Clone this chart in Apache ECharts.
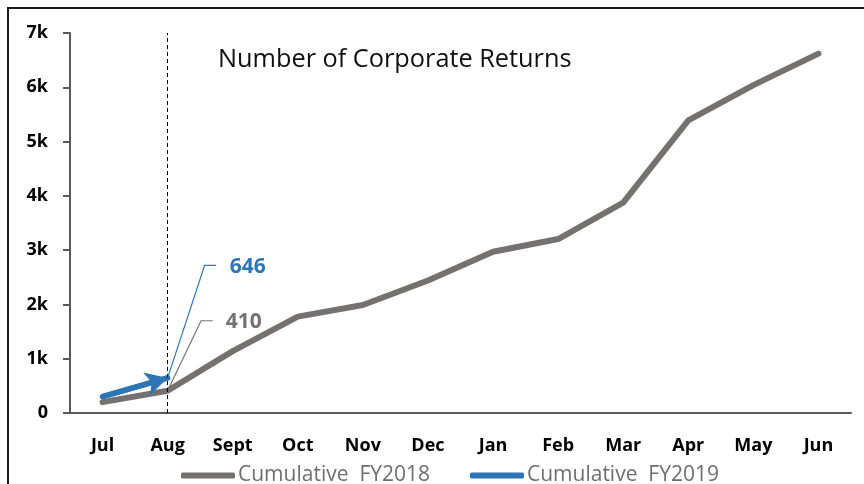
<!DOCTYPE html>
<html>
<head>
<meta charset="utf-8">
<script src="https://cdn.jsdelivr.net/npm/echarts@6/dist/echarts.min.js"></script>
<style>
  html, body { margin: 0; padding: 0; background: #fff; }
  #chart { width: 864px; height: 484px; }
</style>
</head>
<body>
<div id="chart"></div>
<script>
// values
const months = ['Jul', 'Aug', 'Sept', 'Oct', 'Nov', 'Dec', 'Jan', 'Feb', 'Mar', 'Apr', 'May', 'Jun'];
const fy2018 = [200, 410, 1140, 1775, 1990, 2440, 2970, 3205, 3875, 5390, 6040, 6620];
const fy2019 = [300, 646];
const seriesNames = ['Cumulative  FY2018', 'Cumulative  FY2019'];
const chartTitle = 'Number of Corporate Returns';

const GRAY = '#767171';
const BLUE = '#2E75B6';
const AXIS = '#595959';
const FONT = 'Open Sans';

let chart = echarts.init(document.getElementById('chart'));

const xBase = {
  type: 'category',
  data: months,
  axisLine: {lineStyle: {color: AXIS, width: 2}},
  axisTick: {lineStyle: {color: AXIS, width: 2}, length: 7}
};
const yBase = {
  type: 'value',
  min: 0,
  max: 7000,
  interval: 1000,
  splitLine: {show: false},
  axisLine: {show: true, lineStyle: {color: AXIS, width: 2}},
  axisTick: {show: true, lineStyle: {color: AXIS, width: 2}, length: 7}
};

chart.setOption({
  animation: false,
  title: {
    text: chartTitle,
    left: 218,
    top: 46,
    padding: 0,
    textStyle: {fontFamily: FONT, fontSize: 25.3, fontWeight: 'normal', color: '#111', lineHeight: 28}
  },
  legend: {
    left: 176,
    top: 460,
    itemGap: 40,
    itemWidth: 54,
    itemHeight: 6,
    icon: 'roundRect',
    textStyle: {fontFamily: FONT, fontSize: 21, color: '#6e6e6e', padding: [0, 0, 0, -2]},
    data: seriesNames
  },
  grid: {left: 70, right: 13, top: 33, bottom: 71},
  xAxis: [
    Object.assign({}, xBase, {
      axisLabel: {fontFamily: FONT, fontSize: 18, fontWeight: 'bold', color: '#000', margin: 24}
    }),
    Object.assign({}, xBase, {
      axisLine: {show: false},
      axisTick: {inside: true, lineStyle: {color: AXIS, width: 2}, length: 7},
      axisLabel: {show: false}
    })
  ],
  yAxis: [
    Object.assign({}, yBase, {
      axisLabel: {
        fontFamily: FONT, fontSize: 18, fontWeight: 'bold', color: '#000', margin: 22,
        formatter: v => v === 0 ? '0' : (v / 1000) + 'k'
      }
    }),
    Object.assign({}, yBase, {
      position: 'left',
      axisLine: {show: false},
      axisTick: {inside: true, lineStyle: {color: AXIS, width: 2}, length: 7},
      axisLabel: {show: false}
    })
  ],
  series: [
    {
      name: seriesNames[0],
      type: 'line',
      data: fy2018,
      showSymbol: false,
      itemStyle: {color: GRAY},
      lineStyle: {color: GRAY, width: 6, cap: 'round'},
      z: 3,
      markLine: {
        silent: true,
        symbol: 'none',
        label: {show: false},
        lineStyle: {color: '#000', width: 1, type: [4, 3]},
        data: [{xAxis: 1}]
      }
    },
    {
      name: seriesNames[1],
      type: 'line',
      data: fy2019,
      showSymbol: false,
      itemStyle: {color: BLUE},
      lineStyle: {color: BLUE, width: 5.5, cap: 'round'},
      z: 4,
      markLine: {
        silent: true,
        symbol: ['none', 'arrow'],
        symbolSize: [18, 22],
        label: {show: false},
        lineStyle: {color: BLUE, width: 5.5, type: 'solid'},
        data: [[{coord: [0, fy2019[0]]}, {coord: [1, fy2019[1]]}]]
      }
    }
  ]
});

// callout labels for the August values, anchored on the library's scales
let p19 = chart.convertToPixel({xAxisIndex: 0, yAxisIndex: 0}, [1, fy2019[1]]);
let p18 = chart.convertToPixel({xAxisIndex: 0, yAxisIndex: 0}, [1, fy2018[1]]);

chart.setOption({
  graphic: [
    {
      type: 'rect', z: -1, silent: true,
      shape: {x: 8, y: 8, width: 900, height: 600},
      style: {fill: 'none', stroke: '#1a1a1a', lineWidth: 2}
    },
    {
      type: 'polyline', silent: true,
      shape: {points: [p19, [p19[0] + 37, p19[1] - 112.5], [p19[0] + 48.5, p19[1] - 112.5]]},
      style: {stroke: BLUE, lineWidth: 1.2, fill: 'none'}
    },
    {
      type: 'text', silent: true,
      x: p19[0] + 62, y: p19[1] - 111,
      style: {text: String(fy2019[1]), fill: BLUE, font: 'bold 21px "Open Sans"', verticalAlign: 'middle'}
    },
    {
      type: 'polyline', silent: true,
      shape: {points: [p18, [p18[0] + 33.4, p18[1] - 70], [p18[0] + 45, p18[1] - 70]]},
      style: {stroke: GRAY, lineWidth: 1.2, fill: 'none'}
    },
    {
      type: 'text', silent: true,
      x: p18[0] + 58, y: p18[1] - 68.5,
      style: {text: String(fy2018[1]), fill: GRAY, font: 'bold 21px "Open Sans"', verticalAlign: 'middle'}
    }
  ]
});
</script>
</body>
</html>
